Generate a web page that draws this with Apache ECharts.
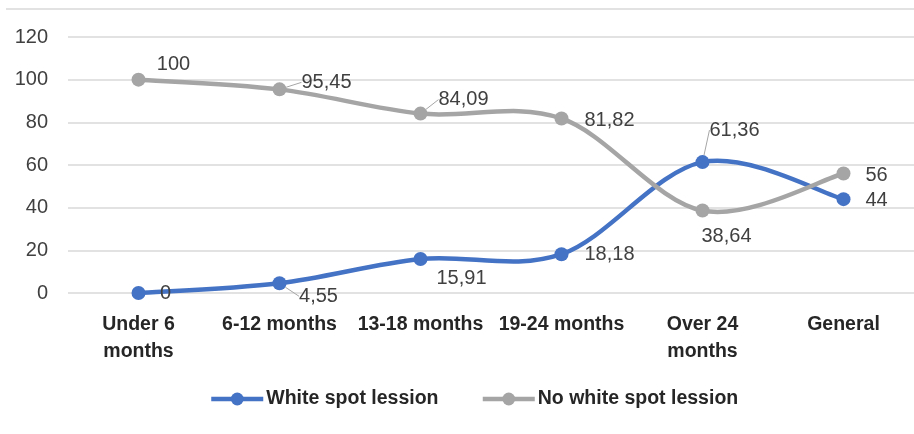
<!DOCTYPE html>
<html>
<head>
<meta charset="utf-8">
<script src="https://cdn.jsdelivr.net/npm/echarts@6/dist/echarts.min.js"></script>
<style>
    html, body { margin: 0; padding: 0; background: #ffffff; }
    #chart { width: 914px; height: 434px; }
</style>
</head>
<body>
<div id="chart"></div>
<script>
const categories = ['Under 6\nmonths', '6-12 months', '13-18 months', '19-24 months', 'Over 24\nmonths', 'General'];
const whiteSpot = [0, 4.55, 15.91, 18.18, 61.36, 44];
const noWhiteSpot = [100, 95.45, 84.09, 81.82, 38.64, 56];
const seriesNames = ['White spot lession', 'No white spot lession'];
const yTicks = [0, 20, 40, 60, 80, 100, 120];

const FONT = '"Liberation Sans", Arial, sans-serif';
const LABEL_COLOR = '#404040';
const BLUE = '#4472c4';
const GRAY = '#a5a5a5';
const LINE_WIDTH = 4.5;

// смещения подписей относительно точек (в пикселях)
const whiteOffsets = [[27, 0], [39, 13], [41, 19], [48, 0], [32, -32], [33, 1]];
const noWhiteOffsets = [[35, -15], [47, -7], [43, -14], [48, 2], [24, 26], [33, 2]];
// у каких подписей есть выносная линия
const whiteLeaders = [false, true, false, false, true, false];
const noWhiteLeaders = [false, true, true, false, false, false];

function fmt(v) {
    return String(v).replace('.', ',');
}

function buildData(values, leaders) {
    return values.map((v, i) => ({
        value: v,
        labelLine: { show: leaders[i] }
    }));
}

// точки и подписи
function buildSeries(name, values, color, offsets, leaders) {
    return {
        name: name,
        type: 'line',
        z: 3,
        symbol: 'circle',
        symbolSize: 14,
        color: color,
        lineStyle: { width: LINE_WIDTH, opacity: 0 },
        label: {
            show: true,
            position: 'inside',
            fontSize: 20,
            color: LABEL_COLOR,
            fontFamily: FONT,
            formatter: p => fmt(p.value)
        },
        labelLine: { lineStyle: { color: '#a6a6a6', width: 1 } },
        labelLayout: function(params) {
            const off = offsets[params.dataIndex];
            return { dx: off[0], dy: off[1] };
        },
        data: buildData(values, leaders)
    };
}

// сглаженная линия как в Excel (Catmull-Rom, 1/6)
function buildCurve(values, color) {
    return {
        type: 'custom',
        z: 2,
        silent: true,
        data: [[0, values[0]]],
        renderItem: function(params, api) {
            const pts = values.map((v, i) => api.coord([i, v]));
            const n = pts.length;
            const children = [];
            for (let i = 0; i < n - 1; i++) {
                const p0 = pts[Math.max(i - 1, 0)];
                const p1 = pts[i];
                const p2 = pts[i + 1];
                const p3 = pts[Math.min(i + 2, n - 1)];
                children.push({
                    type: 'bezierCurve',
                    shape: {
                        x1: p1[0], y1: p1[1],
                        cpx1: p1[0] + (p2[0] - p0[0]) / 6,
                        cpy1: p1[1] + (p2[1] - p0[1]) / 6,
                        cpx2: p2[0] - (p3[0] - p1[0]) / 6,
                        cpy2: p2[1] - (p3[1] - p1[1]) / 6,
                        x2: p2[0], y2: p2[1]
                    },
                    style: { fill: null, stroke: color, lineWidth: LINE_WIDTH, lineCap: 'round' }
                });
            }
            return { type: 'group', children: children };
        }
    };
}

const chart = echarts.init(document.getElementById('chart'));

const option = {
    animation: false,
    textStyle: { fontFamily: FONT },
    grid: { left: 68, right: 0, top: 37, bottom: 141 },
    legend: {
        bottom: 20,
        left: 204,
        itemWidth: 52,
        itemHeight: 16,
        itemGap: 42,
        lineStyle: { width: LINE_WIDTH, opacity: 1 },
        textStyle: { fontSize: 19.5, fontWeight: 'bold', color: '#262626', fontFamily: FONT, padding: [0, 0, 0, -2] },
        data: seriesNames
    },
    xAxis: {
        type: 'category',
        data: categories,
        boundaryGap: true,
        axisLine: { show: false },
        axisTick: { show: false },
        axisLabel: {
            interval: 0,
            margin: 18,
            fontSize: 19.5,
            fontWeight: 'bold',
            lineHeight: 27,
            color: '#262626',
            fontFamily: FONT
        }
    },
    yAxis: {
        type: 'value',
        min: yTicks[0],
        max: yTicks[yTicks.length - 1],
        interval: 20,
        axisLine: { show: false },
        axisTick: { show: false },
        splitLine: { lineStyle: { color: '#d9d9d9', width: 1.5 } },
        axisLabel: { fontSize: 20, color: '#404040', margin: 20, fontFamily: FONT }
    },
    graphic: [{
        type: 'line',
        shape: { x1: 6, y1: 9, x2: 914, y2: 9 },
        style: { stroke: '#d9d9d9', lineWidth: 1.5 }
    }],
    series: [
        buildCurve(whiteSpot, BLUE),
        buildCurve(noWhiteSpot, GRAY),
        buildSeries(seriesNames[0], whiteSpot, BLUE, whiteOffsets, whiteLeaders),
        buildSeries(seriesNames[1], noWhiteSpot, GRAY, noWhiteOffsets, noWhiteLeaders)
    ]
};

chart.setOption(option);
</script>
</body>
</html>
